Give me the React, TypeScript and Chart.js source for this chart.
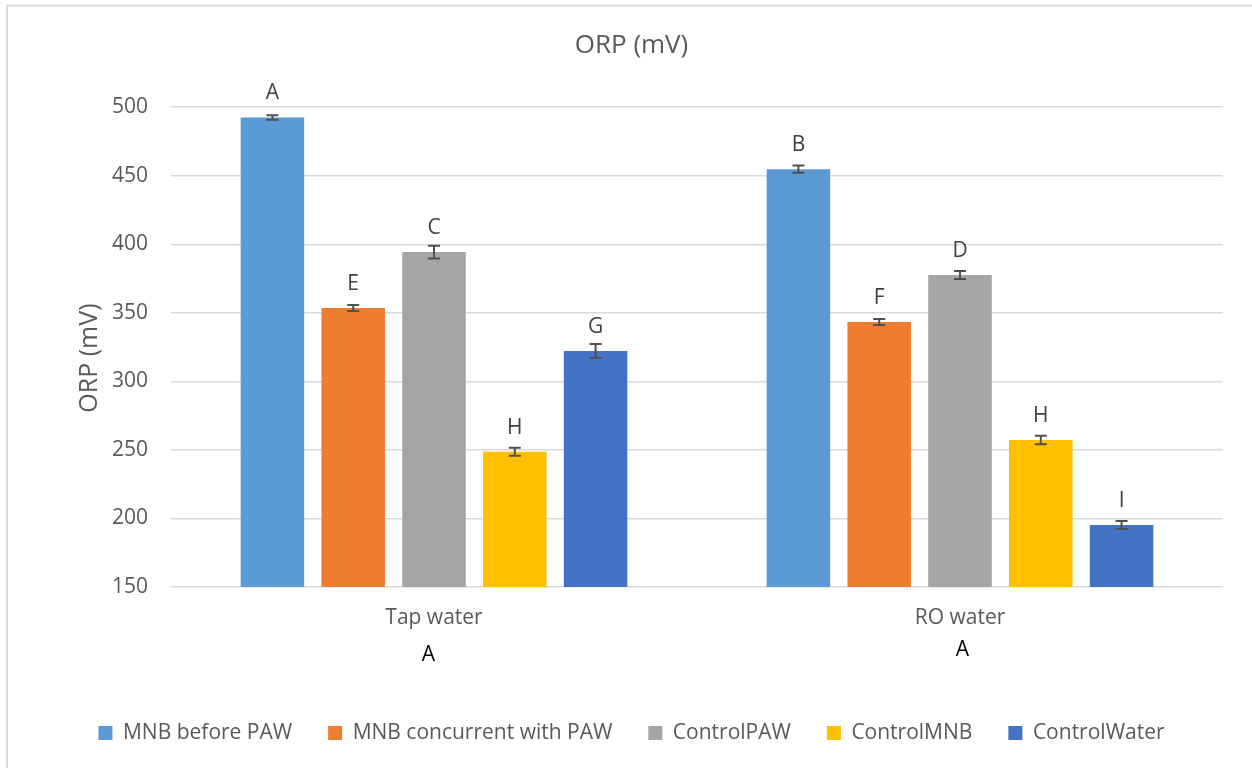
import React, { useEffect, useRef } from 'react';
import { Chart, registerables } from 'chart.js';

Chart.register(...registerables);

// Categories and series
const categories = ['Tap water', 'RO water'];
const seriesNames = ['MNB before PAW', 'MNB concurrent with PAW', 'ControlPAW', 'ControlMNB', 'ControlWater'];
const seriesColors = ['#5B9BD5', '#ED7D31', '#A5A5A5', '#FFC000', '#4472C4'];

// Mean ORP values (mV)
const mnbBeforePaw = [492.5, 454.8];
const mnbConcurrentPaw = [353.6, 343.3];
const controlPaw = [394.3, 377.6];
const controlMnb = [248.7, 257.3];
const controlWater = [322.1, 195.2];

// Error bar half-ranges (mV)
const errMnbBeforePaw = [1.7, 2.6];
const errMnbConcurrentPaw = [2.2, 2.2];
const errControlPaw = [4.7, 2.9];
const errControlMnb = [2.9, 3.1];
const errControlWater = [5.1, 2.9];

// Significance letters above bars
const lettersMnbBeforePaw = ['A', 'B'];
const lettersMnbConcurrentPaw = ['E', 'F'];
const lettersControlPaw = ['C', 'D'];
const lettersControlMnb = ['H', 'H'];
const lettersControlWater = ['G', 'I'];

// Letter shown under each category label, with its small offset from the category centre
const groupLetters = ['A', 'A'];
const groupLetterDx = [-5.5, 2.5];
const groupLetterDy = [68, 63.5];

// Y axis range
const yMin = 150;
const yMax = 500;
const yStep = 50;

const seriesValues = [mnbBeforePaw, mnbConcurrentPaw, controlPaw, controlMnb, controlWater];
const seriesErrors = [errMnbBeforePaw, errMnbConcurrentPaw, errControlPaw, errControlMnb, errControlWater];
const seriesLetters = [lettersMnbBeforePaw, lettersMnbConcurrentPaw, lettersControlPaw, lettersControlMnb, lettersControlWater];

const FONT = "'Open Sans', sans-serif";
const TEXT_GREY = '#595959';

const decorations = {
  id: 'orpDecorations',
  beforeDraw(chart: any) {
    const { ctx, width, height } = chart;
    ctx.save();
    ctx.fillStyle = '#ffffff';
    ctx.fillRect(0, 0, width, height);
    ctx.strokeStyle = '#d9d9d9';
    ctx.lineWidth = 2;
    ctx.beginPath();
    ctx.moveTo(7, height);
    ctx.lineTo(7, 5.5);
    ctx.lineTo(width, 5.5);
    ctx.stroke();
    ctx.restore();
  },
  afterDatasetsDraw(chart: any) {
    const { ctx, chartArea } = chart;
    const yScale = chart.scales.y;
    const xScale = chart.scales.x;
    ctx.save();
    chart.data.datasets.forEach((ds: any, di: number) => {
      const meta = chart.getDatasetMeta(di);
      meta.data.forEach((bar: any, i: number) => {
        const v = ds.data[i];
        const e = seriesErrors[di][i];
        const yHi = yScale.getPixelForValue(v + e);
        const yLo = yScale.getPixelForValue(v - e);
        // error bar
        ctx.strokeStyle = '#505050';
        ctx.lineWidth = 2;
        ctx.beginPath();
        ctx.moveTo(bar.x, yHi);
        ctx.lineTo(bar.x, yLo);
        ctx.moveTo(bar.x - 6, yHi);
        ctx.lineTo(bar.x + 6, yHi);
        ctx.moveTo(bar.x - 6, yLo);
        ctx.lineTo(bar.x + 6, yLo);
        ctx.stroke();
        // letter
        ctx.fillStyle = '#404040';
        ctx.font = `21px ${FONT}`;
        ctx.textAlign = 'center';
        ctx.textBaseline = 'alphabetic';
        ctx.fillText(seriesLetters[di][i], bar.x, bar.y - 18);
      });
    });
    // letters beneath category labels
    ctx.fillStyle = '#000000';
    ctx.font = `21px ${FONT}`;
    ctx.textAlign = 'center';
    ctx.textBaseline = 'middle';
    categories.forEach((_, i) => {
      const cx = xScale.getPixelForValue(i) + groupLetterDx[i];
      ctx.fillText(groupLetters[i], cx, chartArea.bottom + groupLetterDy[i]);
    });
    // y axis title
    ctx.fillStyle = TEXT_GREY;
    ctx.font = `25px ${FONT}`;
    ctx.translate(chartArea.left - 81, (chartArea.top + chartArea.bottom) / 2 + 11);
    ctx.rotate(-Math.PI / 2);
    ctx.fillText('ORP (mV)', 0, 0);
    ctx.restore();
  },
};

export default function App() {
  const canvasRef = useRef<HTMLCanvasElement | null>(null);

  useEffect(() => {
    if (!canvasRef.current) return;
    const chart = new Chart(canvasRef.current, {
      type: 'bar',
      data: {
        labels: categories,
        datasets: seriesNames.map((name, i) => ({
          label: name,
          data: seriesValues[i],
          backgroundColor: seriesColors[i],
          borderWidth: 0,
          categoryPercentage: 0.768,
          barPercentage: 0.786,
        })),
      },
      options: {
        responsive: false,
        animation: false,
        devicePixelRatio: 1,
        layout: { padding: { left: 40, right: 29, top: 0, bottom: 14.5 } },
        plugins: {
          tooltip: { enabled: false },
          title: {
            display: true,
            text: 'ORP (mV)',
            color: TEXT_GREY,
            font: { family: FONT, size: 26, weight: 'normal' },
            padding: { top: 30, bottom: 46 },
          },
          legend: {
            position: 'bottom',
            labels: {
              boxWidth: 14,
              boxHeight: 14,
              padding: 36,
              color: TEXT_GREY,
              font: { family: FONT, size: 21 },
            },
          },
        },
        scales: {
          x: {
            grid: { display: false, drawTicks: false },
            border: { display: false },
            ticks: { padding: 18, color: TEXT_GREY, font: { family: FONT, size: 21 } },
            afterFit: (s: any) => {
              s.height = 99.5;
            },
          },
          y: {
            min: yMin,
            max: yMax,
            ticks: { stepSize: yStep, padding: 23, color: TEXT_GREY, font: { family: FONT, size: 21 } },
            grid: { color: '#d9d9d9', lineWidth: 1.5, drawTicks: false },
            border: { display: false },
            afterFit: (s: any) => {
              s.width = 131;
            },
          },
        },
      },
      plugins: [decorations],
    });
    return () => chart.destroy();
  }, []);

  return (
    <div style={{ position: 'absolute', left: 0, top: 0, width: 1252, height: 768, background: '#fff' }}>
      <canvas ref={canvasRef} width={1252} height={768} style={{ display: 'block' }} />
    </div>
  );
}
